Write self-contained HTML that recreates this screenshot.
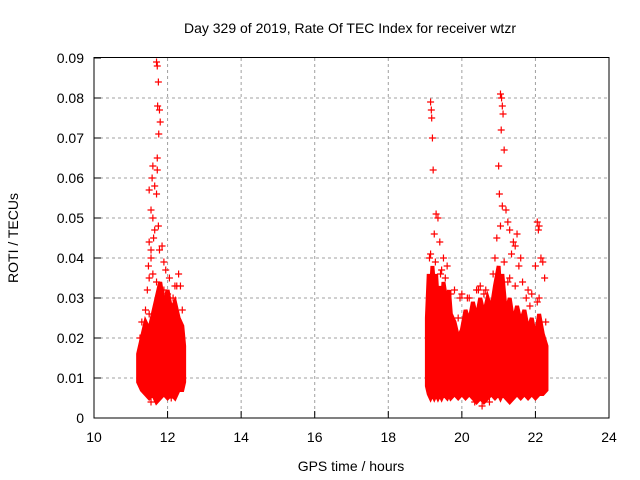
<!DOCTYPE html>
<html><head><meta charset="utf-8"><style>
body{margin:0;background:#fff}
svg{display:block;font-family:"Liberation Sans",sans-serif}
</style></head><body>
<svg id="chart" width="640" height="480" viewBox="0 0 640 480">
<rect width="640" height="480" fill="#fff"/>
<text x="350" y="33" font-size="14" text-anchor="middle">Day 329 of 2019, Rate Of TEC Index for receiver wtzr</text>
<text x="351" y="471" font-size="14" text-anchor="middle">GPS time / hours</text>
<text x="18" y="238" font-size="14" text-anchor="middle" transform="rotate(-90 18 238)">ROTI / TECUs</text>
<g id="grid"></g><g id="axes"></g><g id="bands"></g><g id="pts"></g>
<rect x="94" y="57.5" width="515" height="360.5" fill="none" stroke="#000" stroke-width="1"/>
</svg>
<script>
const xTicks=[10,12,14,16,18,20,22,24];
const yTicks=[0,0.01,0.02,0.03,0.04,0.05,0.06,0.07,0.08,0.09];
// dense cluster envelopes
const band1T=[11.2,11.3,11.4,11.5,11.6,11.7,11.8,11.9,12.0,12.1,12.2,12.3,12.4,12.45];
const band1Lo=[0.009,0.007,0.006,0.005,0.006,0.004,0.005,0.006,0.005,0.006,0.005,0.007,0.007,0.009];
const band1Hi=[0.016,0.02,0.024,0.022,0.026,0.03,0.034,0.028,0.032,0.027,0.029,0.025,0.023,0.018];
const band2T=[19.05,19.1,19.15,19.2,19.25,19.3,19.35,19.4,19.45,19.5,19.6,19.65,19.7,19.8,19.9,20.0,20.1,20.2,20.3,20.4,20.5,20.6,20.7,20.8,20.9,21.0,21.05,21.1,21.2,21.3,21.4,21.5,21.6,21.7,21.8,21.9,22.0,22.1,22.2,22.3];
const band2Lo=[0.008,0.006,0.005,0.006,0.005,0.006,0.005,0.006,0.005,0.006,0.005,0.006,0.005,0.006,0.005,0.006,0.005,0.006,0.005,0.004,0.005,0.004,0.005,0.006,0.005,0.006,0.005,0.006,0.005,0.004,0.005,0.006,0.005,0.006,0.005,0.006,0.005,0.006,0.006,0.007];
const band2Hi=[0.025,0.036,0.03,0.038,0.032,0.036,0.028,0.033,0.027,0.034,0.028,0.032,0.026,0.024,0.02,0.022,0.027,0.024,0.029,0.025,0.03,0.026,0.03,0.027,0.033,0.038,0.03,0.036,0.026,0.03,0.024,0.028,0.024,0.027,0.022,0.025,0.02,0.026,0.021,0.018];
// scattered points
const ptT=[11.7,11.72,11.75,11.73,11.78,11.8,11.76,11.72,11.6,11.58,11.72,11.65,11.5,11.55,11.6,11.7,11.75,11.5,11.62,11.78,11.55,11.85,11.9,11.48,11.5,11.6,11.7,11.95,12.05,12.15,12.3,12.35,11.9,12.0,12.2,11.45,11.65,11.55,
19.15,19.17,19.18,19.2,19.22,19.3,19.35,19.4,19.5,19.6,19.25,19.45,19.15,19.55,
21.05,21.08,21.1,21.12,21.07,21.15,21.0,21.02,21.1,21.2,21.05,21.3,21.4,21.5,21.45,21.6,21.35,21.25,20.95,20.9,21.55,
22.05,22.1,22.08,22.15,22.2,22.0,22.25,22.1,
20.0,20.2,20.4,20.6,20.8,19.8,19.95,20.55,20.35,20.75,21.65,21.8,21.9,11.55,12.1,11.85,20.5,21.3,
11.3,11.4,11.5,12.25,12.4,11.25,19.12,19.28,19.42,19.7,20.15,20.45,20.85,21.15,21.45,21.75,22.05,22.28,19.9,20.65,21.25,21.85];
const ptV=[0.089,0.088,0.084,0.078,0.077,0.074,0.071,0.065,0.063,0.060,0.062,0.058,0.057,0.052,0.050,0.056,0.048,0.044,0.045,0.042,0.040,0.043,0.039,0.038,0.035,0.036,0.034,0.037,0.035,0.030,0.036,0.033,0.032,0.031,0.033,0.032,0.047,0.042,
0.079,0.077,0.075,0.070,0.062,0.051,0.050,0.044,0.040,0.038,0.046,0.037,0.041,0.035,
0.081,0.080,0.078,0.076,0.072,0.067,0.063,0.056,0.053,0.052,0.048,0.047,0.044,0.046,0.043,0.040,0.041,0.049,0.045,0.040,0.038,
0.049,0.048,0.047,0.040,0.039,0.038,0.035,0.030,
0.031,0.030,0.032,0.031,0.029,0.032,0.030,0.003,0.004,0.004,0.034,0.032,0.031,0.004,0.005,0.007,0.033,0.035,
0.024,0.027,0.026,0.033,0.027,0.02,0.04,0.039,0.036,0.031,0.03,0.032,0.036,0.039,0.033,0.03,0.029,0.024,0.025,0.032,0.034,0.028];
const NS='http://www.w3.org/2000/svg';
const X=t=>94+(t-10)*515/14, Y=v=>418-v*4000;
function mk(tag,attrs,parent){const e=document.createElementNS(NS,tag);for(const k in attrs)e.setAttribute(k,attrs[k]);document.getElementById(parent).appendChild(e);return e;}
xTicks.forEach(t=>{
 if(t>10&&t<24){const g=mk('line',{x1:X(t),x2:X(t),y1:58,y2:418,stroke:'#a0a0a0','stroke-dasharray':'3,3'},'grid');
 
 }
 const tk=mk('line',{x1:X(t),x2:X(t),y1:418,y2:411,stroke:'#000'},'axes');
 
 
 const l=mk('text',{x:X(t),y:442,'font-size':14,'text-anchor':'middle'},'axes');l.textContent=t;
 
 
});
yTicks.forEach(v=>{
 if(v>0&&v<0.09){const g=mk('line',{x1:94,x2:609,y1:Y(v),y2:Y(v),stroke:'#a0a0a0','stroke-dasharray':'3,3'},'grid');
 
 }
 const tk=mk('line',{x1:94,x2:101,y1:Y(v),y2:Y(v),stroke:'#000'},'axes');
 
 
 const l=mk('text',{x:84,y:Y(v)+5,'font-size':14,'text-anchor':'end'},'axes');l.textContent=v===0?'0':v.toFixed(2);
 
 
});
function band(T,Lo,Hi,name){
 let d='';T.forEach((t,i)=>d+=(i?'L':'M')+X(t)+','+Y(Hi[i]));
 for(let i=T.length-1;i>=0;i--)d+='L'+X(T[i])+','+Y(Lo[i]);
 const p=mk('path',{d:d+'Z',fill:'#ff0000',stroke:'#ff0000','stroke-width':4,'stroke-linejoin':'miter'},'bands');
 
 
}
band(band1T,band1Lo,band1Hi,'dense-cluster-midday');
band(band2T,band2Lo,band2Hi,'dense-cluster-evening');
ptT.forEach((t,i)=>{
 const x=X(t),y=Y(ptV[i]);
 const p=mk('path',{d:`M${x-3.5},${y}H${x+3.5}M${x},${y-3.5}V${y+3.5}`,stroke:'#ff0000','stroke-width':1.2},'pts');
 
 
});
</script>
</body></html>
